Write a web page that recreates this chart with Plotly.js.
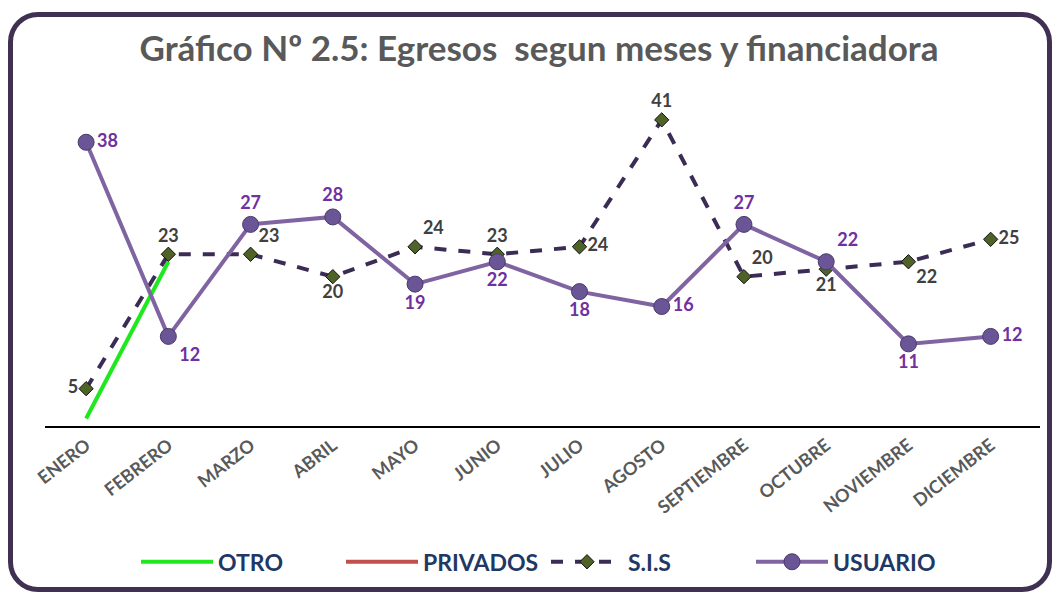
<!DOCTYPE html>
<html>
<head>
<meta charset="utf-8">
<script src="https://cdn.plot.ly/plotly-3.0.1.min.js"></script>
<style>
  html, body { margin:0; padding:0; background:#fff; }
  #wrap { position:relative; width:1060px; height:594px; overflow:hidden; }
  #chart { position:absolute; left:0; top:0; width:1060px; height:594px; }
  #frame { position:absolute; left:8px; top:12px; width:1034px; height:570px;
           border:5px solid #403152; border-radius:30px 30px 30px 30px; pointer-events:none; }
</style>
</head>
<body>
<div id="wrap">
  <div id="chart"></div>
  <div id="frame"></div>
</div>
<script>
const months = ["ENERO","FEBRERO","MARZO","ABRIL","MAYO","JUNIO","JULIO","AGOSTO","SEPTIEMBRE","OCTUBRE","NOVIEMBRE","DICIEMBRE"];
const otro     = [1, 22, null, null, null, null, null, null, null, null, null, null];
const privados = [null, null, null, null, null, null, null, null, null, null, null, null];
const sis      = [5, 23, 23, 20, 24, 23, 24, 41, 20, 21, 22, 25];
const usuario  = [38, 12, 27, 28, 19, 22, 18, 16, 27, 22, 11, 12];

const sisPos = ["middle left","top center","top right","bottom center","top right","top center",
                "middle right","top center","top right","bottom center","bottom right","middle right"];
const usuPos = ["middle right","bottom right","top center","top center","bottom center","bottom center",
                "bottom center","middle right","top center","top right","bottom center","middle right"];

const FONT = "Lato, 'Open Sans', sans-serif";

const traces = [
  { name:"OTRO", x:months, y:otro, type:"scatter", mode:"lines",
    line:{color:"#1fe81f", width:4}, connectgaps:false },
  { name:"PRIVADOS", x:months, y:privados, type:"scatter", mode:"lines",
    line:{color:"#c0504d", width:4} },
  { name:"S.I.S", x:months, y:sis, type:"scatter", mode:"lines+markers+text",
    line:{color:"#3b2c55", width:4, dash:"dash"},
    marker:{symbol:"diamond", size:11, color:"#4f6228", line:{color:"#111", width:1}},
    text:sis.map(String), textposition:sisPos,
    textfont:{family:FONT, size:18, color:"#404040", weight:"bold"}, cliponaxis:false },
  { name:"USUARIO", x:months, y:usuario, type:"scatter", mode:"lines+markers+text",
    line:{color:"#8064a2", width:4},
    marker:{symbol:"circle", size:16, color:"#6a5596", line:{color:"#4a3a6b", width:1}},
    text:usuario.map(String), textposition:usuPos,
    textfont:{family:FONT, size:18, color:"#7030a0", weight:"bold"}, cliponaxis:false }
];

const layout = {
  width:1060, height:594,
  margin:{l:45, r:20, t:90, b:166.5},
  paper_bgcolor:"#ffffff", plot_bgcolor:"#ffffff",
  title:{text:"Gráfico Nº 2.5: Egresos  segun meses y financiadora",
         x:539/1060, xanchor:"center", y:1-49/594, yanchor:"middle", yref:"container",
         font:{family:FONT, size:35, color:"#595959", weight:"bold"}},
  xaxis:{type:"category", range:[-0.5, 11.6], showline:true, linecolor:"#000", linewidth:2,
         showgrid:false, zeroline:false, ticks:"", tickangle:-38,
         tickfont:{family:FONT, size:18, color:"#595959", weight:"bold"}},
  yaxis:{range:[0,45], visible:false, showgrid:false, zeroline:false},
  showlegend:true,
  legend:{orientation:"h", x:546/1060 * 0 + (546-45)/995, xanchor:"center", y:-0.40, yanchor:"middle",
          font:{family:FONT, size:23, color:"#1f3864", weight:"bold"},
          itemwidth:72, entrywidth:118, entrywidthmode:"pixels"},
};

Plotly.newPlot("chart", traces, layout, {displayModeBar:false, staticPlot:true});
</script>
</body>
</html>
